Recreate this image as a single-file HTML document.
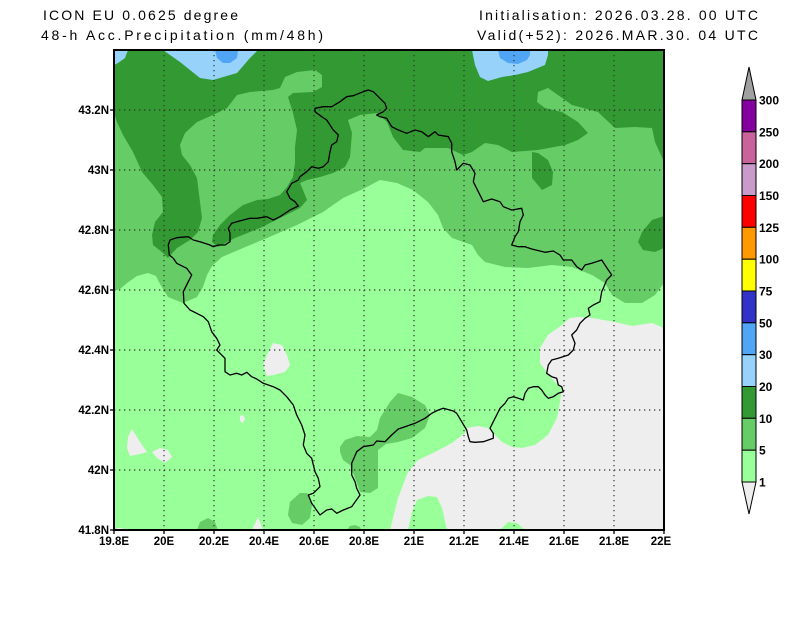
<!DOCTYPE html>
<html>
<head>
<meta charset="utf-8">
<style>
  html,body{margin:0;padding:0;background:#ffffff;}
  svg{display:block;}
  .t{font-family:"Liberation Sans",sans-serif;font-size:14px;fill:#000;}
  .lab{font-family:"Liberation Sans",sans-serif;font-size:11.5px;font-weight:bold;fill:#000;}
  .cb{font-family:"Liberation Sans",sans-serif;font-size:12px;font-weight:bold;fill:#000;}
</style>
</head>
<body>
<svg width="800" height="618" viewBox="0 0 800 618" xmlns="http://www.w3.org/2000/svg">
  <rect x="0" y="0" width="800" height="618" fill="#ffffff"/>

  <!-- Titles -->
  <text class="t" x="43" y="20" textLength="195" lengthAdjust="spacing">ICON EU 0.0625 degree</text>
  <text class="t" x="41" y="40" textLength="282" lengthAdjust="spacing">48-h Acc.Precipitation (mm/48h)</text>
  <text class="t" x="479" y="20" textLength="279" lengthAdjust="spacing">Initialisation: 2026.03.28. 00 UTC</text>
  <text class="t" x="477" y="40" textLength="281" lengthAdjust="spacing">Valid(+52): 2026.MAR.30. 04 UTC</text>

  <defs>
    <clipPath id="plot">
      <rect x="114" y="50" width="550" height="480"/>
    </clipPath>
  </defs>

  <g clip-path="url(#plot)">
    <!-- background dark green (10-20) -->
    <rect x="114" y="50" width="550" height="480" fill="#339933"/>

    <!-- light blue + blue top -->
    <polygon fill="#96d2fa" points="163,50 170,55 180,62 190,70 200,78 213,80 237,73 250,58 258,50"/>
    <polygon fill="#50a5f5" points="215,50 217,58 223,63 230,63 237,58 238,50"/>
    <polygon fill="#96d2fa" points="114,50 128,50 125,58 118,63 114,65"/>
    <polygon fill="#96d2fa" points="472,50 475,65 480,77 488,81 502,77 515,75 528,72 545,65 548,55 548,50"/>
    <polygon fill="#50a5f5" points="498,50 500,58 508,63 518,64 527,60 530,55 530,50"/>

    <!-- mid green (5-10) -->
    <polygon fill="#66cc66" points="114,113 117,122 123,135 133,152 142,172 153,185 162,197 163,212 155,222 152,235 153,245 163,253 168,258 177,248 190,240 198,232 202,218 200,202 197,178 190,165 182,155 180,145 185,133 197,122 213,115 227,108 237,95 250,92 273,90 280,88 285,77 297,72 315,70 322,75 322,87 313,92 293,93 288,97 293,113 297,130 295,147 295,163 293,177 287,187 280,195 268,199 257,200 243,205 230,215 220,225 213,235 212,242 218,247 235,238 260,228 290,213 300,208 307,200 303,190 300,183 307,180 320,177 333,173 345,167 350,157 352,133 348,120 360,115 377,113 387,122 393,137 403,150 420,152 425,148 448,148 463,155 472,152 485,143 498,145 512,152 538,150 565,145 578,140 588,133 578,122 562,112 545,108 537,102 538,92 548,88 558,95 572,105 598,112 615,128 635,127 652,128 655,142 664,162 664,530 114,530"/>

    <!-- dark patches on mid green -->
    <polygon fill="#339933" points="532,152 532,178 542,190 552,185 553,172 548,160 538,153"/>
    <polygon fill="#339933" points="664,216 652,220 642,232 638,242 643,250 655,252 664,248"/>

    <!-- light green (1-5) -->
    <polygon fill="#99ff99" points="114,291 120,289 127,283 137,276 148,273 156,276 160,284 168,297 183,303 197,297 203,287 207,275 212,266 222,257 243,248 267,238 297,225 323,212 343,198 363,189 380,180 397,183 413,190 428,202 438,215 443,228 452,238 472,245 478,255 485,262 505,267 528,268 552,265 572,267 592,275 605,283 612,295 625,303 642,303 655,295 664,283 664,530 114,530"/>

    <!-- mid green patches in light green -->
    <polygon fill="#66cc66" points="340,447 345,440 357,436 370,437 377,430 380,418 390,402 398,393 412,397 425,405 430,415 425,428 412,438 398,442 386,444 378,450 378,472 378,488 370,493 360,492 355,478 350,465 343,460 340,452"/>
    <polygon fill="#66cc66" points="290,502 300,493 307,493 312,505 310,518 302,525 292,523 288,515"/>
    <polygon fill="#66cc66" points="197,530 200,522 208,518 215,522 218,530"/>
    <polygon fill="#66cc66" points="347,530 350,526 355,525 360,527 361,530"/>

    <!-- gray (<1) patches -->
    <polygon fill="#eeeeee" points="273,343 282,345 287,355 290,365 285,372 273,375 267,376 263,365 267,355"/>
    <polygon fill="#eeeeee" points="240,416 243,415 245,419 243,423 240,421"/>
    <polygon fill="#eeeeee" points="132,429 140,442 147,452 140,454 130,456 127,448 128,437"/>
    <polygon fill="#eeeeee" points="152,452 160,448 168,450 172,457 165,463 157,458"/>
    <polygon fill="#eeeeee" points="258,517 263,530 252,530"/>
    <polygon fill="#eeeeee" points="115,530 117,528 122,528 124,530"/>

    <!-- big gray region -->
    <polygon fill="#eeeeee" points="390,530 398,498 408,472 418,460 435,452 452,443 465,433 467,428 478,426 488,428 495,435 502,442 512,447 522,448 535,445 548,435 557,418 560,402 562,388 555,382 547,373 540,363 540,348 548,335 562,325 570,318 578,317 592,318 615,322 632,326 652,323 664,328 664,530"/>
    <polygon fill="#99ff99" points="408,530 412,512 417,500 428,496 437,497 442,508 447,530"/>
    <polygon fill="#99ff99" points="500,530 508,522 517,523 525,530"/>

    <!-- grid lines -->
    <g stroke="#333333" stroke-width="1.2" stroke-dasharray="1.3 3.7" fill="none">
      <line x1="164" y1="50" x2="164" y2="530"/>
      <line x1="214" y1="50" x2="214" y2="530"/>
      <line x1="264" y1="50" x2="264" y2="530"/>
      <line x1="314" y1="50" x2="314" y2="530"/>
      <line x1="364" y1="50" x2="364" y2="530"/>
      <line x1="414" y1="50" x2="414" y2="530"/>
      <line x1="464" y1="50" x2="464" y2="530"/>
      <line x1="514" y1="50" x2="514" y2="530"/>
      <line x1="564" y1="50" x2="564" y2="530"/>
      <line x1="614" y1="50" x2="614" y2="530"/>
      <line x1="114" y1="110" x2="664" y2="110"/>
      <line x1="114" y1="170" x2="664" y2="170"/>
      <line x1="114" y1="230" x2="664" y2="230"/>
      <line x1="114" y1="290" x2="664" y2="290"/>
      <line x1="114" y1="350" x2="664" y2="350"/>
      <line x1="114" y1="410" x2="664" y2="410"/>
      <line x1="114" y1="470" x2="664" y2="470"/>
    </g>

    <!-- border -->
    <polyline fill="none" stroke="#000" stroke-width="1.3" stroke-linejoin="round" points="170,240 176.7,237.7 188.3,236.7 193.3,240 200,241.7 210,245 213.3,246.7 218.3,245 225,245 230,241.7 230,233.3 228.3,228.3 231.7,223.3 236.7,221.7 243.3,220 250,218.3 256.7,218.3 266.7,216.7 273.3,220 280,216.7 290,210 298.3,206 295,201.7 290,198.3 286.7,191.7 291.7,183.3 298.3,180 300,176.7 306.7,171.7 311.7,166.7 318.3,168.3 323.3,166.7 328.3,161.7 330,151.7 331.7,145 336.7,141.7 338.3,135 333.3,130 330,125 326.7,120 321.7,116.7 315,111.7 315,108.3 323.3,106.7 331.7,106.7 340,101.7 346.7,96.7 353.3,95.7 363.3,91.7 368.3,90 373.3,91.7 380,98.3 385,103.3 386.7,108.3 383.3,111.7 376.7,115 380,116.7 386.7,118.3 391.7,126.7 398.3,130 406.7,133.3 415,130 421.7,131.7 428.3,136.7 435,131.7 438.3,135 448.3,136.7 451.7,143.3 451.7,151.7 455,161.7 456.7,170 463.3,163.3 470,165 475,173.3 473.3,181.7 478.3,191.7 483.3,201.7 491.7,199 500,201.7 503.3,206.7 511.7,210 521.7,208.3 523.3,215 520,221.7 518.3,231.7 515,236.7 511.7,245 518.3,246.7 525,246.7 531.7,249 545,252.3 553.3,251 560,255 563.3,260 571.7,260 576.7,266.7 581.7,270 585,265 591.7,263.3 601.7,260 605,265 608.3,270 611.7,275 606.7,280 603.3,288.3 601.7,291.7 600,301.7 593.3,305 588.3,308.3 590,315 585,318.3 580,323.3 576.7,330 571.7,335 575,343.3 573.3,350 568.3,355 558.3,358.3 551.7,360 548.3,365 546.7,373.3 551.7,376.7 556.7,378.3 558.3,385 561.7,386.7 563.3,391.7 558.3,393.3 553.3,396.7 548.3,398.3 545,395 541.7,390 538.3,386.7 533.3,386.7 528.3,388.3 525,393.3 523.3,400 518.3,398.3 513.3,396.7 508.3,398.3 505,403.3 500,408.3 496.7,415 493.3,421.7 490,428.3 493.3,433.3 493.3,438.3 488.3,440 483.3,441.7 475,442.3 470,441.7 468.3,436.7 466.7,430 461.7,421.7 456.7,413.3 453.3,411 443.3,408.3 438.3,410 431.7,413.3 425,418.3 415,423.3 405,426.7 398.3,429 391.7,435 385,441.7 376.7,441 373.3,445 363.3,446.7 356.7,451.7 351.7,463.3 351.7,475 355,481.7 356.7,488.3 360,495 351.7,506.7 343.3,510 336.7,513.3 331.7,509 326.7,510 320,515 311.7,503.3 308.3,495 313.3,493.3 320,486.7 318.3,478.3 315,471.7 311.7,458.3 306.7,453.3 303.3,445 305,435 301.7,425 296.7,415 293.3,405 286.7,396.7 280,390 273.3,386.7 263.3,383.3 256.7,379 251.7,376.7 246.7,372.3 241.7,375 236.7,373.3 230,375 225,371.7 225,358.3 220,353.3 216.7,350 220,345 216.7,338.3 211.7,331.7 208.3,321.7 203.3,316.7 196.7,313.3 190,310 184,303.3 183.3,291.7 188.3,281.7 191.7,275 186.7,268.3 176.7,263.3 173.3,258.3 169.3,255 168.3,245 170,240"/>
  </g>

  <!-- frame -->
  <rect x="114" y="50" width="550" height="480" fill="none" stroke="#000" stroke-width="2"/>

  <!-- ticks -->
  <g stroke="#000" stroke-width="1.3">
    <line x1="110" y1="110" x2="114" y2="110"/>
    <line x1="110" y1="170" x2="114" y2="170"/>
    <line x1="110" y1="230" x2="114" y2="230"/>
    <line x1="110" y1="290" x2="114" y2="290"/>
    <line x1="110" y1="350" x2="114" y2="350"/>
    <line x1="110" y1="410" x2="114" y2="410"/>
    <line x1="110" y1="470" x2="114" y2="470"/>
    <line x1="110" y1="530" x2="114" y2="530"/>
    <line x1="114" y1="530" x2="114" y2="534"/>
    <line x1="164" y1="530" x2="164" y2="534"/>
    <line x1="214" y1="530" x2="214" y2="534"/>
    <line x1="264" y1="530" x2="264" y2="534"/>
    <line x1="314" y1="530" x2="314" y2="534"/>
    <line x1="364" y1="530" x2="364" y2="534"/>
    <line x1="414" y1="530" x2="414" y2="534"/>
    <line x1="464" y1="530" x2="464" y2="534"/>
    <line x1="514" y1="530" x2="514" y2="534"/>
    <line x1="564" y1="530" x2="564" y2="534"/>
    <line x1="614" y1="530" x2="614" y2="534"/>
    <line x1="664" y1="530" x2="664" y2="534"/>
  </g>

  <!-- left labels -->
  <g text-anchor="end">
    <text class="lab" x="109" y="114">43.2N</text>
    <text class="lab" x="109" y="174">43N</text>
    <text class="lab" x="109" y="234">42.8N</text>
    <text class="lab" x="109" y="294">42.6N</text>
    <text class="lab" x="109" y="354">42.4N</text>
    <text class="lab" x="109" y="414">42.2N</text>
    <text class="lab" x="109" y="474">42N</text>
    <text class="lab" x="109" y="534">41.8N</text>
  </g>
  <!-- bottom labels -->
  <g text-anchor="middle">
    <text class="lab" x="114" y="545">19.8E</text>
    <text class="lab" x="164" y="545">20E</text>
    <text class="lab" x="214" y="545">20.2E</text>
    <text class="lab" x="264" y="545">20.4E</text>
    <text class="lab" x="314" y="545">20.6E</text>
    <text class="lab" x="364" y="545">20.8E</text>
    <text class="lab" x="414" y="545">21E</text>
    <text class="lab" x="464" y="545">21.2E</text>
    <text class="lab" x="514" y="545">21.4E</text>
    <text class="lab" x="564" y="545">21.6E</text>
    <text class="lab" x="614" y="545">21.8E</text>
    <text class="lab" x="661" y="545">22E</text>
  </g>

  <!-- colorbar -->
  <g stroke="#000" stroke-width="1">
    <polygon points="749,67 742,100 756,100" fill="#a0a0a0"/>
    <rect x="742" y="100" width="14" height="31.8" fill="#83009e"/>
    <rect x="742" y="131.8" width="14" height="31.9" fill="#c8649b"/>
    <rect x="742" y="163.7" width="14" height="31.8" fill="#c89bcb"/>
    <rect x="742" y="195.5" width="14" height="31.8" fill="#ff0000"/>
    <rect x="742" y="227.3" width="14" height="31.9" fill="#ff9900"/>
    <rect x="742" y="259.2" width="14" height="31.8" fill="#ffff00"/>
    <rect x="742" y="291" width="14" height="31.8" fill="#3232c8"/>
    <rect x="742" y="322.8" width="14" height="31.9" fill="#50a5f5"/>
    <rect x="742" y="354.7" width="14" height="31.8" fill="#96d2fa"/>
    <rect x="742" y="386.5" width="14" height="31.8" fill="#339933"/>
    <rect x="742" y="418.3" width="14" height="31.9" fill="#66cc66"/>
    <rect x="742" y="450.2" width="14" height="31.8" fill="#99ff99"/>
    <polygon points="742,482 756,482 749,514" fill="#eeeeee"/>
  </g>
  <g>
    <text class="cb" x="759" y="104.5">300</text>
    <text class="cb" x="759" y="136.3">250</text>
    <text class="cb" x="759" y="168.2">200</text>
    <text class="cb" x="759" y="200">150</text>
    <text class="cb" x="759" y="231.8">125</text>
    <text class="cb" x="759" y="263.7">100</text>
    <text class="cb" x="759" y="295.5">75</text>
    <text class="cb" x="759" y="327.3">50</text>
    <text class="cb" x="759" y="359.2">30</text>
    <text class="cb" x="759" y="391">20</text>
    <text class="cb" x="759" y="422.8">10</text>
    <text class="cb" x="759" y="454.7">5</text>
    <text class="cb" x="759" y="486.5">1</text>
  </g>
</svg>
</body>
</html>
